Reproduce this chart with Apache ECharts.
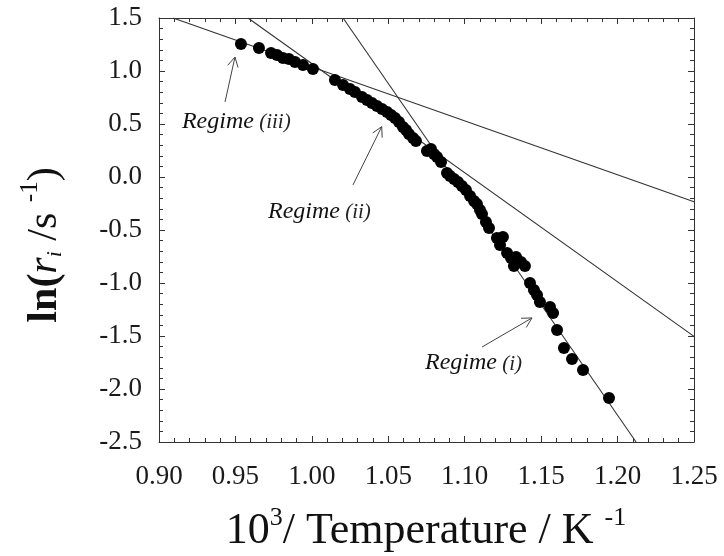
<!DOCTYPE html>
<html>
<head>
<meta charset="utf-8">
<script src="https://cdn.jsdelivr.net/npm/echarts@6/dist/echarts.min.js"></script>
<style>html,body{margin:0;padding:0;background:#fff}#c{width:724px;height:556px}</style>
</head>
<body>
<div id="c"></div>
<script>
// ---- data ----
const invT = [0.9536,0.9654,0.9733,0.9772,0.9811,0.9850,0.9890,0.9942,1.0007,1.0151,
  1.0204,1.0249,1.0282,1.0328,1.0361,1.0393,1.0426,1.0459,1.0492,1.0518,
  1.0544,1.0570,1.0596,1.0616,1.0635,1.0662,1.0681,1.0753,1.0779,1.0799,
  1.0819,1.0845,1.0884,1.0904,1.0930,1.0956,1.0982,1.1008,1.1035,1.1061,
  1.1080,1.1100,1.1113,1.1139,1.1159,1.1211,1.1250,1.1231,1.1277,1.1303,
  1.1336,1.1368,1.1394,1.1322,1.1427,1.1453,1.1473,1.1492,1.1558,1.1578,
  1.1604,1.1649,1.1702,1.1774,1.1944];
const lnR = [1.255,1.217,1.170,1.151,1.123,1.113,1.085,1.057,1.019,0.915,
  0.868,0.830,0.802,0.755,0.726,0.698,0.670,0.642,0.613,0.585,
  0.557,0.519,0.472,0.443,0.406,0.368,0.340,0.245,0.264,0.217,
  0.189,0.142,0.038,0.009,-0.019,-0.047,-0.085,-0.123,-0.179,-0.226,
  -0.255,-0.311,-0.349,-0.425,-0.481,-0.575,-0.566,-0.642,-0.717,-0.764,
  -0.755,-0.802,-0.840,-0.840,-1.000,-1.066,-1.113,-1.179,-1.226,-1.283,
  -1.443,-1.613,-1.717,-1.821,-2.085];
// straight fit lines (end points)
const fitIII = [[0.9092, 1.5], [1.25, -0.233]];
const fitII  = [[0.9582, 1.5], [1.25, -1.504]];
const fitI   = [[1.0204, 1.5], [1.2121, -2.5]];
// annotations: label, text anchor (x,y), arrow tail (x,y), arrow head (x,y)
const regimeLabels = ['(iii)', '(ii)', '(i)'];
const regimeText   = [[0.915, 0.538], [0.9713, -0.311], [1.0740, -1.736]];
const arrowTail    = [[0.9432, 0.708], [1.0269, -0.075], [1.1113, -1.604]];
const arrowHead    = [[0.9497, 1.132], [1.0457, 0.475], [1.1440, -1.330]];
// axes
const xMin = 0.90, xMax = 1.25, xStep = 0.05;
const yMin = -2.5, yMax = 1.5, yStep = 0.5;

const FONT = "'Liberation Serif','Times New Roman',serif";
const AX = '#333';

const scatterData = invT.map((x, i) => [x, lnR[i]]);
const annData = regimeLabels.map((l, i) => [regimeText[i][0], regimeText[i][1],
  arrowTail[i][0], arrowTail[i][1], arrowHead[i][0], arrowHead[i][1]]);

function axisCommon(extra) {
  return Object.assign({
    type: 'value',
    axisLine: { show: true, onZero: false, lineStyle: { color: AX, width: 1 } },
    axisTick: { show: true, inside: true, length: 6, lineStyle: { color: AX } },
    minorTick: { show: true, splitNumber: 5, length: 4, lineStyle: { color: AX } },
    splitLine: { show: false },
    minorSplitLine: { show: false }
  }, extra);
}

const chart = echarts.init(document.getElementById('c'), null, { renderer: 'canvas' });
chart.setOption({
  animation: false,
  backgroundColor: '#fff',
  grid: { left: 159, right: 30, top: 18, bottom: 114, containLabel: false },
  xAxis: [
    axisCommon({ position: 'bottom', min: xMin, max: xMax, interval: xStep,
      axisLabel: { margin: 21, fontFamily: FONT, fontSize: 27, color: '#1a1a1a',
        formatter: v => v.toFixed(2) } }),
    axisCommon({ position: 'top', min: xMin, max: xMax, interval: xStep,
      axisLabel: { show: false } })
  ],
  yAxis: [
    axisCommon({ position: 'left', min: yMin, max: yMax, interval: yStep,
      axisLabel: { margin: 17, fontFamily: FONT, fontSize: 27, color: '#1a1a1a',
        formatter: v => v.toFixed(1) } }),
    axisCommon({ position: 'right', min: yMin, max: yMax, interval: yStep,
      axisLabel: { show: false } })
  ],
  series: [
    { type: 'line', data: fitIII, symbol: 'none', lineStyle: { color: '#333', width: 1.1 }, z: 2 },
    { type: 'line', data: fitII, symbol: 'none', lineStyle: { color: '#333', width: 1.1 }, z: 2 },
    { type: 'line', data: fitI, symbol: 'none', lineStyle: { color: '#333', width: 1.1 }, z: 2 },
    { type: 'scatter', data: scatterData, symbol: 'circle', symbolSize: 12,
      itemStyle: { color: '#000', opacity: 1 }, z: 3 },
    { type: 'custom', data: annData, z: 4, clip: false,
      renderItem: function (params, api) {
        const t = api.coord([api.value(0), api.value(1)]);
        const p1 = api.coord([api.value(2), api.value(3)]);
        const p2 = api.coord([api.value(4), api.value(5)]);
        const ang = Math.atan2(p1[1] - p2[1], p1[0] - p2[0]);
        const L = 11, a = 0.5;
        const h1 = [p2[0] + L * Math.cos(ang + a), p2[1] + L * Math.sin(ang + a)];
        const h2 = [p2[0] + L * Math.cos(ang - a), p2[1] + L * Math.sin(ang - a)];
        return { type: 'group', children: [
          { type: 'line', shape: { x1: p1[0], y1: p1[1], x2: p2[0], y2: p2[1] },
            style: { stroke: '#444', lineWidth: 1 } },
          { type: 'polyline', shape: { points: [h1, p2, h2] },
            style: { stroke: '#444', fill: null, lineWidth: 1 } },
          { type: 'text', x: t[0], y: t[1], style: {
              text: '{a|Regime}{b| ' + regimeLabels[params.dataIndex] + '}',
              align: 'left', verticalAlign: 'middle',
              rich: {
                a: { fontFamily: FONT, fontStyle: 'italic', fontSize: 24, fill: '#111', verticalAlign: 'bottom', lineHeight: 27 },
                b: { fontFamily: FONT, fontStyle: 'italic', fontSize: 21, fill: '#222', verticalAlign: 'bottom', lineHeight: 26 }
              } } }
        ] };
      }
    }
  ],
  graphic: [
    { type: 'text', x: 426, y: 529, style: {
        text: '{n|10}{s|3}{n|/ Temperature / K }{s|-1}',
        align: 'center', verticalAlign: 'middle',
        rich: {
          n: { fontFamily: FONT, fontSize: 44, fill: '#111', lineHeight: 48, verticalAlign: 'bottom' },
          s: { fontFamily: FONT, fontSize: 26, fill: '#111', lineHeight: 30, verticalAlign: 'top' }
        } } },
    { type: 'text', x: 42, y: 245, rotation: Math.PI / 2, style: {
        text: '{b|ln(}{i|r}{sub|i}{n| /s }{sup|-1}{n|)}',
        align: 'center', verticalAlign: 'middle',
        rich: {
          b: { fontFamily: FONT, fontWeight: 'bold', fontSize: 42, fill: '#111', lineHeight: 48, verticalAlign: 'bottom' },
          i: { fontFamily: FONT, fontStyle: 'italic', fontSize: 42, fill: '#111', lineHeight: 48, verticalAlign: 'bottom' },
          sub: { fontFamily: FONT, fontStyle: 'italic', fontSize: 22, fill: '#111', lineHeight: 22, verticalAlign: 'bottom' },
          n: { fontFamily: FONT, fontSize: 42, fill: '#111', lineHeight: 48, verticalAlign: 'bottom' },
          sup: { fontFamily: FONT, fontSize: 25, fill: '#111', lineHeight: 28, verticalAlign: 'top' }
        } } }
  ]
});
</script>
</body>
</html>
